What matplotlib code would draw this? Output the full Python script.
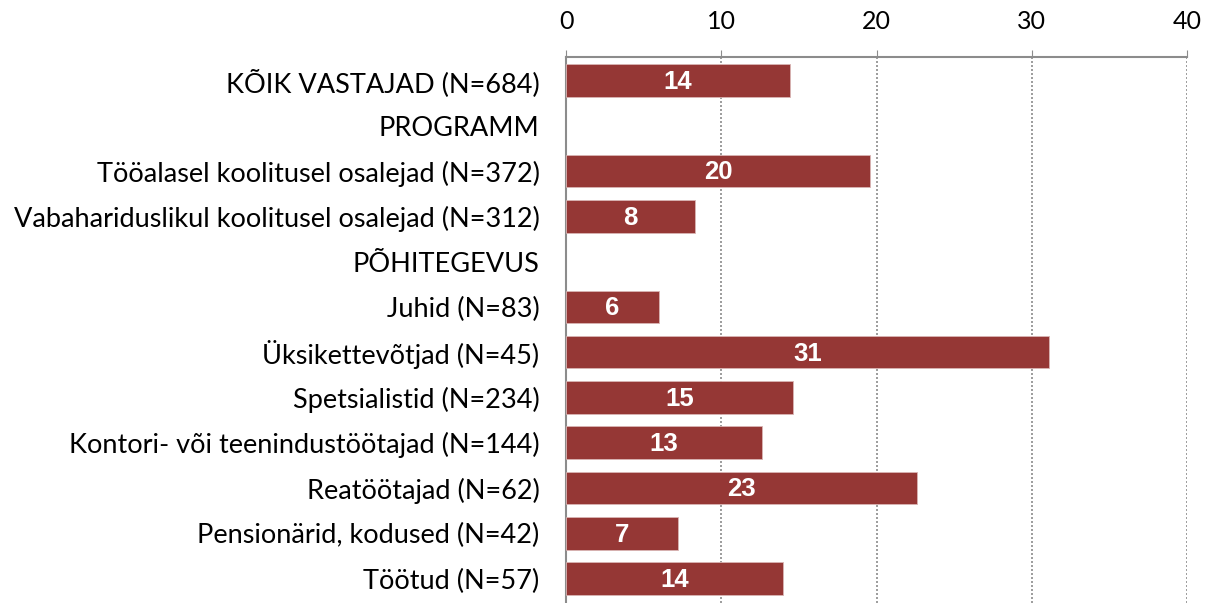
import numpy as np
import matplotlib
matplotlib.use("Agg")
import matplotlib.pyplot as plt

# categories top to bottom, section headers have no bar
Categories = ["KÕIK VASTAJAD (N=684)", "PROGRAMM",
              "Tööalasel koolitusel osalejad (N=372)",
              "Vabahariduslikul koolitusel osalejad (N=312)",
              "PÕHITEGEVUS", "Juhid (N=83)", "Üksikettevõtjad (N=45)",
              "Spetsialistid (N=234)", "Kontori- või teenindustöötajad (N=144)",
              "Reatöötajad (N=62)", "Pensionärid, kodused (N=42)", "Töötud (N=57)"]
Values = [14.4, np.nan, 19.6, 8.3, np.nan, 6.0, 31.1, 14.6, 12.6, 22.6, 7.2, 14.0]
Ticks = [0, 10, 20, 30, 40]

bar_color = "#953735"
grey = "#8c8c8c"

fig = plt.figure(figsize=(12.09, 6.03), dpi=100)
ax = fig.add_axes([566/1209, 0.0, (1187-566)/1209, 1 - 57/603])

y = np.arange(len(Categories))
vals = np.array(Values)
has = ~np.isnan(vals)
ax.barh(y[has], vals[has], height=0.72, color=bar_color,
        edgecolor="#d9b5b4", linewidth=0.6, zorder=3)

for i, v in enumerate(Values):
    if not np.isnan(v):
        ax.text(v/2, i + 0.03, f"{v:.0f}", ha="center", va="center", color="white",
                fontsize=18.5, fontweight="bold", family="Liberation Sans", zorder=4)

ax.set_xlim(0, 40)
ax.set_ylim(len(Categories) - 0.46, -0.52)
ax.set_xticks(Ticks)
ax.xaxis.tick_top()
ax.tick_params(axis="x", length=5, color=grey, labelsize=18, pad=12)
ax.set_xticklabels([str(t) for t in Ticks], family="Lato")
ax.set_yticks(y)
ax.set_yticklabels(Categories, fontsize=19.5, family="Lato")
ax.tick_params(axis="y", length=0, pad=19)

ax.grid(axis="x", linestyle=(0, (1.2, 1.2)), color=grey, linewidth=1.2, zorder=0)
for s in ["right", "bottom"]:
    ax.spines[s].set_visible(False)
ax.spines["top"].set_color(grey)
ax.spines["left"].set_color(grey)
ax.spines["top"].set_linewidth(1.5)
ax.spines["left"].set_linewidth(1.5)

fig.savefig("out.png", dpi=100)
